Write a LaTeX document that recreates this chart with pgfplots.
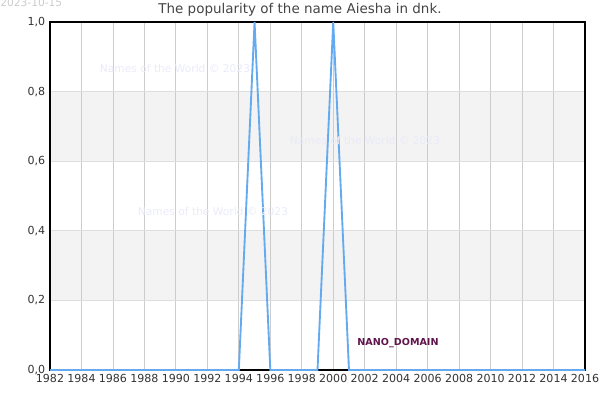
\documentclass[border=0pt]{standalone}
\usepackage{pgfplots}
\pgfplotsset{compat=1.18}
\usepackage{fontspec}
\setmainfont{DejaVu Sans}
\definecolor{lineblue}{RGB}{100,170,240}
\definecolor{band}{RGB}{243,243,243}
\definecolor{gridgrey}{RGB}{204,204,204}
\definecolor{hgrid}{RGB}{222,222,222}
\definecolor{titlegrey}{RGB}{68,68,68}
\definecolor{tickgrey}{RGB}{51,51,51}
\definecolor{wmark}{RGB}{234,234,250}
\definecolor{nano}{RGB}{95,20,75}
\begin{document}
\begin{tikzpicture}
\node[overlay, anchor=north west, font=\fontsize{8}{9}\selectfont, text=gridgrey, inner sep=0pt] at (0pt,301.5pt) {2023-10-15};
\node[font=\fontsize{10.1}{12}\selectfont, text=titlegrey] at (225pt,292.5pt) {The popularity of the name Aiesha in dnk.};
\begin{axis}[
    at={(37.5pt,22.5pt)}, anchor=south west,
    scale only axis,
    width=401.25pt, height=261pt,
    set layers,
    xmin=1982, xmax=2016,
    ymin=0, ymax=1,
    xtick={1982,1984,...,2016},
    ytick={0,0.2,...,1.0},
    major tick length=0pt,
    xmajorgrids, ymajorgrids,
    every axis x grid/.style={gridgrey, line width=0.6pt},
    every axis y grid/.style={hgrid, line width=0.6pt},
    axis line style={black, line width=0.9pt},
    tick label style={font=\fontsize{8.3}{10}\selectfont, text=tickgrey},
    /pgf/number format/assume math mode=true,
    x tick label style={/pgf/number format/1000 sep={}},
    y tick label style={/pgf/number format/.cd, use comma, fixed, fixed zerofill, precision=1},
    clip=false,
]
\begin{pgfonlayer}{axis background}
\fill[band] (axis cs:1982,0.2) rectangle (axis cs:2016,0.4);
\fill[band] (axis cs:1982,0.6) rectangle (axis cs:2016,0.8);
\end{pgfonlayer}
\addplot[color=lineblue, line width=1.4pt, mark=none] coordinates {
    (1982,0) (1983,0) (1984,0) (1985,0) (1986,0) (1987,0) (1988,0)
    (1989,0) (1990,0) (1991,0) (1992,0) (1993,0) (1994,0) (1995,1)
    (1996,0) (1997,0) (1998,0) (1999,0) (2000,1) (2001,0) (2002,0)
    (2003,0) (2004,0) (2005,0) (2006,0) (2007,0) (2008,0) (2009,0)
    (2010,0) (2011,0) (2012,0) (2013,0) (2014,0) (2015,0) (2016,0)
};
\end{axis}
\node[font=\fontsize{8}{9}\selectfont, text=wmark] at (131.25pt,248.25pt) {Names of the World © 2023};
\node[font=\fontsize{8}{9}\selectfont, text=wmark] at (273.75pt,194.25pt) {Names of the World © 2023};
\node[font=\fontsize{8}{9}\selectfont, text=wmark] at (159.75pt,141pt) {Names of the World © 2023};
\node[font=\bfseries\fontsize{7.2}{9}\selectfont, text=nano] at (298.5pt,42.75pt) {NANO\_DOMAIN};
\pgfresetboundingbox
\path (0,0) rectangle (450pt,300pt);
\end{tikzpicture}
\end{document}
